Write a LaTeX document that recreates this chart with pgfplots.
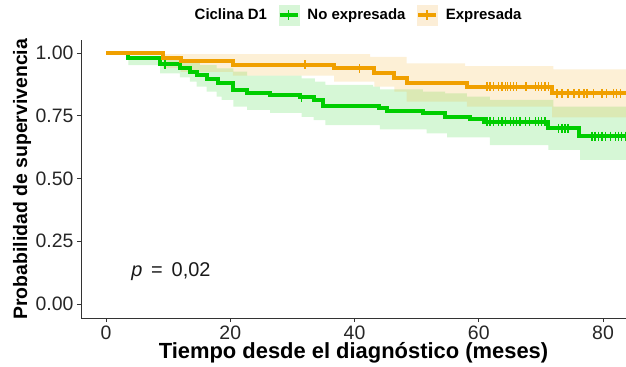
\documentclass[border=0pt]{standalone}
\usepackage{pgfplots}
\pgfplotsset{compat=1.18}
\usepgfplotslibrary{fillbetween}
\usepackage{fontspec}
\setmainfont{Liberation Sans}
\definecolor{gline}{RGB}{0,205,0}
\definecolor{oline}{RGB}{240,160,0}
\definecolor{gfill}{RGB}{215,246,215}
\definecolor{ofill}{RGB}{252,238,215}

\pgfplotstableread{
t s
0 1
3.6 0.979
8.7 0.956
11.9 0.939
13.5 0.926
14.6 0.912
16.2 0.895
18.0 0.879
20.5 0.853
22.7 0.842
26.4 0.833
31.2 0.823
33.4 0.813
35.0 0.789
43.9 0.780
45.2 0.770
51.1 0.760
54.6 0.746
58.6 0.737
60.8 0.726
71.2 0.700
76.2 0.669
86 0.669
}\greencurve

\pgfplotstableread{
t s
9.5 0.956
31.5 0.823
61.3 0.726
61.8 0.726
62.4 0.726
63.2 0.726
63.7 0.726
64.3 0.726
65.1 0.726
65.6 0.726
66.1 0.726
66.6 0.726
67.5 0.726
68.2 0.726
69.1 0.726
69.6 0.726
70.1 0.726
70.7 0.726
72.8 0.700
73.4 0.700
73.9 0.700
74.4 0.700
78.2 0.669
78.7 0.669
79.3 0.669
79.8 0.669
80.4 0.669
81.2 0.669
82.0 0.669
82.5 0.669
83.0 0.669
83.6 0.669
}\greencens

\pgfplotstableread{
t s
0 1
3.6 0.990
8.7 0.979
11.9 0.965
15.1 0.952
17.8 0.939
20.5 0.926
22.7 0.910
31.5 0.899
33.6 0.886
35.3 0.873
43.0 0.866
44.1 0.855
51.0 0.846
54.6 0.839
58.1 0.826
61.8 0.813
72.0 0.786
86 0.786
}\greenup

\pgfplotstableread{
t s
0 1
3.6 0.952
8.7 0.919
11.9 0.903
13.5 0.886
14.6 0.866
16.2 0.846
17.8 0.826
18.6 0.813
20.5 0.786
22.7 0.773
26.4 0.762
31.5 0.746
33.4 0.733
35.3 0.713
44.1 0.696
51.6 0.680
54.9 0.664
61.8 0.633
71.2 0.614
76.3 0.574
86 0.574
}\greenlo

\pgfplotstableread{
t s
0 1
9.2 0.979
12.0 0.968
20.4 0.954
36.7 0.939
43.2 0.919
46.4 0.899
48.4 0.879
58.1 0.866
71.8 0.839
86 0.839
}\orangecurve

\pgfplotstableread{
t s
32.0 0.954
40.8 0.939
61.3 0.866
61.8 0.866
62.4 0.866
63.2 0.866
63.7 0.866
64.3 0.866
64.6 0.866
65.1 0.866
65.6 0.866
66.1 0.866
67.5 0.866
67.7 0.866
69.1 0.866
69.6 0.866
70.1 0.866
70.7 0.866
71.2 0.866
72.6 0.839
73.4 0.839
74.4 0.839
75.3 0.839
76.1 0.839
76.9 0.839
77.4 0.839
78.5 0.839
79.8 0.839
80.6 0.839
81.7 0.839
82.2 0.839
82.8 0.839
}\orangecens

\pgfplotstableread{
t s
0 1
9.2 0.996
42.5 0.985
48.4 0.959
57.8 0.948
72.0 0.935
86 0.935
}\orangeup

\pgfplotstableread{
t s
0 1
9.2 0.940
12.0 0.925
20.4 0.910
36.7 0.886
43.2 0.866
46.4 0.846
48.4 0.806
58.1 0.786
71.8 0.744
86 0.744
}\orangelo

\begin{document}
\begin{tikzpicture}
\begin{axis}[
  scale only axis, width=545bp, height=277.5bp,
  xmin=-4.03, xmax=83.7, ymin=-0.056, ymax=1.05,
  axis x line*=bottom, axis y line*=left,
  axis line style={line width=0.8bp, black!80, -},
  xtick={0,20,40,60,80}, ytick={0,0.25,0.5,0.75,1},
  xticklabels={0,20,40,60,80},
  yticklabels={0.00,0.25,0.50,0.75,1.00},
  tick align=outside, major tick length=4bp,
  tick style={line width=0.8bp, black!80},
  ticklabel style={font=\fontsize{19.5}{23}\selectfont, text=black!85},
  /pgf/number format/assume math mode=true,
  xlabel={Tiempo desde el diagnóstico (meses)},
  ylabel={Probabilidad de supervivencia},
  xlabel style={font=\bfseries\fontsize{22}{26}\selectfont, at={(axis description cs:0.5,-0.126)}, anchor=center},
  ylabel style={font=\bfseries\fontsize{19.5}{23}\selectfont, at={(axis description cs:-0.108,0.5)}, anchor=center},
  legend style={at={(axis description cs:0.503,1.092)}, anchor=center, draw=none, fill=none,
    font=\bfseries\fontsize{15}{18}\selectfont, inner sep=0pt,
    /tikz/every odd column/.append style={column sep=6bp},
    /tikz/every even column/.append style={column sep=9bp}},
  legend columns=-1,
]
% bands
\addplot[name path=gu, draw=none, const plot, forget plot] table {\greenup};
\addplot[name path=gl, draw=none, const plot, forget plot] table {\greenlo};
\addplot[fill=gline, fill opacity=0.16, draw=none, forget plot] fill between[of=gu and gl];
\addplot[name path=ou, draw=none, const plot, forget plot] table {\orangeup};
\addplot[name path=ol, draw=none, const plot, forget plot] table {\orangelo};
\addplot[fill=oline, fill opacity=0.16, draw=none, forget plot] fill between[of=ou and ol];
% curves
\addplot[gline, line width=4bp, const plot, forget plot] table {\greencurve};
\addplot[gline, only marks, mark=|, mark size=4.5bp, mark options={line width=1.5bp}, forget plot] table {\greencens};
\addplot[oline, line width=4bp, const plot, forget plot] table {\orangecurve};
\addplot[oline, only marks, mark=|, mark size=4.5bp, mark options={line width=1.5bp}, forget plot] table {\orangecens};
% legend
\addlegendimage{empty legend}
\addlegendentry{Ciclina D1}
\addlegendimage{legend image code/.code={
  \fill[gfill] (0bp,-10bp) rectangle (20bp,10bp);
  \draw[gline, line width=3.5bp] (1bp,0bp) -- (19bp,0bp);
  \draw[gline, line width=1.5bp] (10bp,-5bp) -- (10bp,5bp);}}
\addlegendentry{No expresada}
\addlegendimage{legend image code/.code={
  \fill[ofill] (0bp,-10bp) rectangle (20bp,10bp);
  \draw[oline, line width=3.5bp] (1bp,0bp) -- (19bp,0bp);
  \draw[oline, line width=1.5bp] (10bp,-5bp) -- (10bp,5bp);}}
\addlegendentry{Expresada}
\node[anchor=base west, font=\fontsize{20}{24}\selectfont, text=black!90] at (axis cs:3.5,0.109) {\textit{p}\,\ =\ \,0,02};
\end{axis}
\pgfresetboundingbox
\path[use as bounding box] ([shift={(-81bp,-49bp)}]current axis.south west) rectangle ([shift={(0bp,40.5bp)}]current axis.north east);
\end{tikzpicture}
\end{document}
